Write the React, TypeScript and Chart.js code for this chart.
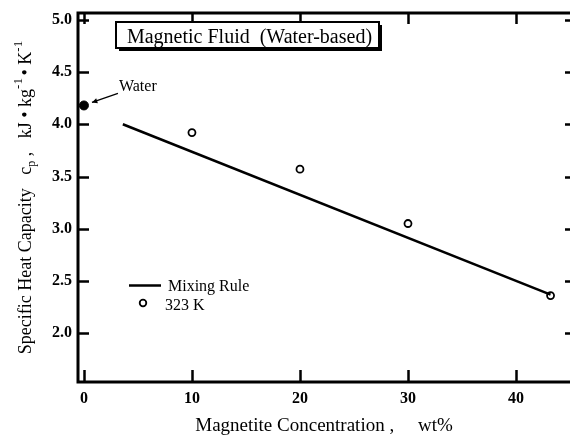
import React, { useEffect, useRef } from "react";
import { Chart, registerables } from "chart.js";

Chart.register(...registerables);

// Magnetite concentration (wt%) and measured specific heat at 323 K
const concentrationWt = [10, 20, 30, 43.2];
const heatCapacity323K = [3.92, 3.57, 3.05, 2.36];

// Pure water reference point
const waterConcentration = [0];
const waterHeatCapacity = [4.18];

// Mixing-rule prediction (straight line between its end points)
const mixingRuleConcentration = [3.6, 43.2];
const mixingRuleHeatCapacity = [4.0, 2.37];

// Axis ticks and ranges
const xTickValues = [0, 10, 20, 30, 40];
const yTickValues = [2.0, 2.5, 3.0, 3.5, 4.0, 4.5, 5.0];
const xRange = [-0.55, 45.0];
const yRange = [1.533, 5.065];

const SERIF = "'Liberation Serif', 'Times New Roman', serif";

const toPoints = (xs: number[], ys: number[]) => xs.map((x, i) => ({ x, y: ys[i] }));

// Frame with inward ticks on all four sides
const framePlugin = {
  id: "frame",
  beforeDatasetsDraw(chart: any) {
    const { ctx, chartArea: a, scales } = chart;
    ctx.save();
    ctx.strokeStyle = "#000";
    ctx.lineCap = "butt";
    ctx.lineJoin = "miter";
    ctx.lineWidth = 3;
    ctx.beginPath();
    ctx.moveTo(a.right, a.top);
    ctx.lineTo(a.left, a.top);
    ctx.lineTo(a.left, a.bottom);
    ctx.lineTo(a.right, a.bottom);
    ctx.stroke();
    ctx.lineWidth = 2.5;
    ctx.beginPath();
    for (const v of xTickValues) {
      const px = Math.round(scales.x.getPixelForValue(v)) + 0.5;
      ctx.moveTo(px, a.bottom);
      ctx.lineTo(px, a.bottom - 12);
      ctx.moveTo(px, a.top);
      ctx.lineTo(px, a.top + 11);
    }
    for (const v of yTickValues) {
      const py = Math.round(scales.y.getPixelForValue(v)) + 0.5;
      ctx.moveTo(a.left, py);
      ctx.lineTo(a.left + 11, py);
      ctx.moveTo(a.right, py);
      ctx.lineTo(a.right - 5, py);
    }
    ctx.stroke();
    ctx.restore();
  },
};

// Y axis title with sub/superscripts
const yTitleSegments = [
  { text: "Specific Heat Capacity   c", size: 18, shift: 0 },
  { text: "p", size: 12, shift: 4 },
  { text: " ,   kJ \u2022 kg", size: 18, shift: 0 },
  { text: "-1\u2009", size: 13, shift: -9 },
  { text: "\u2022 K", size: 18, shift: 0 },
  { text: "-1", size: 13, shift: -9 },
];

const annotationPlugin = {
  id: "annotations",
  afterDatasetsDraw(chart: any) {
    const { ctx, scales, chartArea } = chart;
    ctx.save();
    ctx.fillStyle = "#000";
    ctx.strokeStyle = "#000";

    // Y axis title, centred on the plot area
    ctx.save();
    let total = 0;
    for (const seg of yTitleSegments) {
      ctx.font = `${seg.size}px ${SERIF}`;
      total += ctx.measureText(seg.text).width;
    }
    const midY = (chartArea.top + chartArea.bottom) / 2;
    ctx.translate(31, midY + total / 2);
    ctx.rotate(-Math.PI / 2);
    ctx.textBaseline = "alphabetic";
    ctx.textAlign = "left";
    let cursor = 0;
    for (const seg of yTitleSegments) {
      ctx.font = `${seg.size}px ${SERIF}`;
      ctx.fillText(seg.text, cursor, seg.shift);
      cursor += ctx.measureText(seg.text).width;
    }
    ctx.restore();

    // Title box with drop shadow
    const bx = 116, by = 22, bw = 263, bh = 26;
    ctx.fillRect(bx + 3, by + 3, bw, bh);
    ctx.fillStyle = "#fff";
    ctx.fillRect(bx, by, bw, bh);
    ctx.fillStyle = "#000";
    ctx.lineWidth = 2;
    ctx.strokeRect(bx, by, bw, bh);
    ctx.font = `20px ${SERIF}`;
    ctx.textAlign = "center";
    ctx.textBaseline = "alphabetic";
    ctx.fillText("Magnetic Fluid  (Water-based)", bx + bw / 2 + 2, 43);

    // "Water" callout pointing at the pure-water point
    const wx = scales.x.getPixelForValue(waterConcentration[0]);
    const wy = scales.y.getPixelForValue(waterHeatCapacity[0]);
    const tipX = wx + 8, tipY = wy - 3;
    const tailX = wx + 34, tailY = wy - 12;
    ctx.lineWidth = 1.3;
    ctx.beginPath();
    ctx.moveTo(tailX, tailY);
    ctx.lineTo(tipX, tipY);
    ctx.stroke();
    const ang = Math.atan2(tipY - tailY, tipX - tailX);
    ctx.beginPath();
    ctx.moveTo(tipX, tipY);
    ctx.lineTo(tipX - 6 * Math.cos(ang - 0.45), tipY - 6 * Math.sin(ang - 0.45));
    ctx.lineTo(tipX - 6 * Math.cos(ang + 0.45), tipY - 6 * Math.sin(ang + 0.45));
    ctx.closePath();
    ctx.fill();
    ctx.font = `16px ${SERIF}`;
    ctx.textAlign = "left";
    ctx.fillText("Water", wx + 35, wy - 14);

    // Legend
    ctx.lineWidth = 2.5;
    ctx.beginPath();
    ctx.moveTo(129, 285.5);
    ctx.lineTo(161, 285.5);
    ctx.stroke();
    ctx.fillText("Mixing Rule", 168, 291);
    ctx.lineWidth = 1.8;
    ctx.beginPath();
    ctx.arc(143, 303, 3.3, 0, Math.PI * 2);
    ctx.fillStyle = "#fff";
    ctx.fill();
    ctx.stroke();
    ctx.fillStyle = "#000";
    ctx.fillText("323 K", 165, 310);

    ctx.restore();
  },
};

export default function App() {
  const canvasRef = useRef<HTMLCanvasElement>(null);

  useEffect(() => {
    const canvas = canvasRef.current;
    if (!canvas) return;
    const chart = new Chart(canvas, {
      type: "scatter",
      data: {
        datasets: [
          {
            label: "Mixing Rule",
            type: "line",
            data: toPoints(mixingRuleConcentration, mixingRuleHeatCapacity),
            borderColor: "#000",
            borderWidth: 2.5,
            pointRadius: 0,
            fill: false,
            tension: 0,
          } as any,
          {
            label: "323 K",
            data: toPoints(concentrationWt, heatCapacity323K),
            pointRadius: 3.5,
            pointBorderWidth: 1.8,
            pointBackgroundColor: "#fff",
            pointBorderColor: "#000",
          },
          {
            label: "Water",
            data: toPoints(waterConcentration, waterHeatCapacity),
            pointRadius: 4.5,
            pointBorderWidth: 1,
            pointBackgroundColor: "#000",
            pointBorderColor: "#000",
          },
        ],
      },
      options: {
        responsive: false,
        animation: false,
        devicePixelRatio: 1,
        layout: { autoPadding: false, padding: { top: 13, right: 0, bottom: 0, left: 0 } },
        plugins: {
          legend: { display: false },
          tooltip: { enabled: false },
        },
        scales: {
          x: {
            type: "linear",
            min: xRange[0],
            max: xRange[1],
            grid: { display: false, drawTicks: false },
            border: { display: false },
            afterBuildTicks: (s: any) => {
              s.ticks = xTickValues.map((value) => ({ value }));
            },
            afterFit: (s: any) => {
              s.height = 55;
              s.paddingLeft = 0;
              s.paddingRight = 0;
            },
            ticks: {
              color: "#000",
              padding: 7,
              font: { family: SERIF, size: 16, weight: "bold" },
              callback: (v: any) => String(v),
            },
            title: {
              display: true,
              text: "Magnetite Concentration ,     wt%",
              color: "#000",
              font: { family: SERIF, size: 19 },
              padding: { top: 0, bottom: 0 },
            },
          },
          y: {
            type: "linear",
            min: yRange[0],
            max: yRange[1],
            grid: { display: false, drawTicks: false },
            border: { display: false },
            afterBuildTicks: (s: any) => {
              s.ticks = yTickValues.map((value) => ({ value }));
            },
            afterFit: (s: any) => {
              s.width = 78;
              s.paddingTop = 0;
              s.paddingBottom = 0;
            },
            ticks: {
              color: "#000",
              padding: 6,
              font: { family: SERIF, size: 16, weight: "bold" },
              callback: (v: any) => Number(v).toFixed(1),
            },
          },
        },
      },
      plugins: [framePlugin, annotationPlugin],
    });
    return () => chart.destroy();
  }, []);

  return (
    <div style={{ position: "absolute", left: 0, top: 0, width: 570, height: 437, background: "#fff" }}>
      <canvas ref={canvasRef} width={570} height={437} style={{ display: "block", width: 570, height: 437 }} />
    </div>
  );
}
